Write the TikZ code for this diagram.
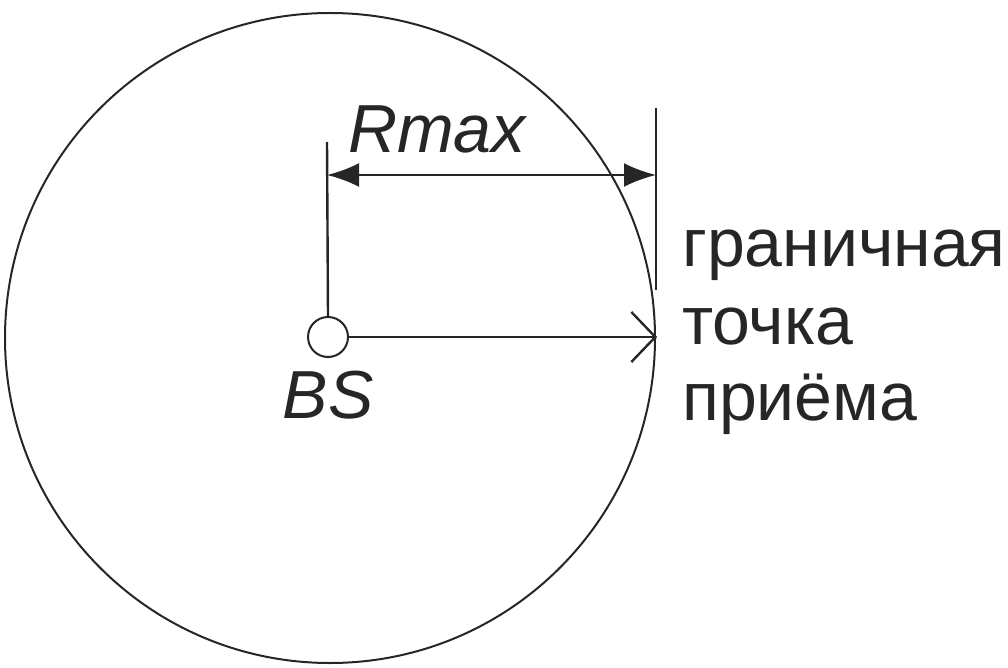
\documentclass[tikz,border=0pt]{standalone}
\usepackage{fontspec}
\setmainfont{Liberation Sans}
\usetikzlibrary{arrows.meta}
\begin{document}
\begin{tikzpicture}[x=1pt,y=-1pt,
  ln/.style={line width=2.4pt,draw=black!85},
  lbl/.style={font=\fontsize{68}{76}\selectfont\itshape,inner sep=0pt,text=black!85},
  cyr/.style={font=\fontsize{68}{77}\selectfont,inner sep=0pt,align=left,text=black!85}]
\useasboundingbox (0,0) rectangle (1008,668);
\node[draw=black!85,line width=2pt,circle,minimum size=650pt,inner sep=0pt] (big) at (330,338) {};
\node[draw=black!85,line width=2pt,circle,minimum size=40pt,inner sep=0pt] (bs) at (328,337) {};
\coordinate (ltop) at (327,142);
\coordinate (rtop) at (656,108);
\coordinate (rbot) at (656,290);
\coordinate (dl) at (327,175);
\coordinate (dr) at (656,175);
\coordinate (edge) at (657,337);
\draw[ln] (ltop) -- (bs.north);
\draw[ln] (rtop) -- (rbot);
\draw[ln,{Latex[length=32pt,width=24pt]}-{Latex[length=32pt,width=24pt]}] (dl) -- (dr);
\draw[ln,-{Straight Barb[length=24pt,width=50pt,line width=2.4pt]}] (bs.east) -- (edge);
\node[lbl,anchor=base] (rmax) at (437,153) {Rmax};
\node[lbl,anchor=base] (bslbl) at (328,418) {BS};
\node[cyr,anchor=base west] (t1) at (682,266) {граничная};
\node[cyr,anchor=base west] (t2) at (682,344) {точка};
\node[cyr,anchor=base west] (t3) at (682,420) {приёма};
\end{tikzpicture}
\end{document}
